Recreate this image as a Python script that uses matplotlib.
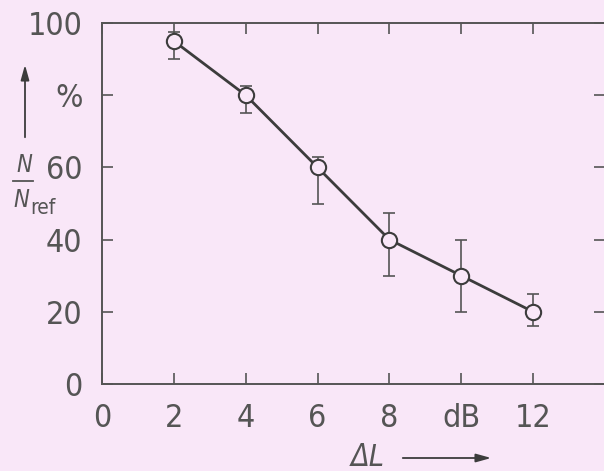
import matplotlib
matplotlib.use('Agg')
import matplotlib.pyplot as plt
from matplotlib.lines import Line2D

# data
delta_l = [2, 4, 6, 8, 10, 12]
ratio = [95, 80, 60, 40, 30, 20]
err_low = [5, 5, 10, 10, 10, 4]
err_high = [2.5, 2.5, 3, 7.5, 10, 5]

xticks = [0, 2, 4, 6, 8, 10, 12]
xticklabels = ['0', '2', '4', '6', '8', 'dB', '12']
yticks = [0, 20, 40, 60, 80, 100]
yticklabels = ['0', '20', '40', '60', '%', '100']

bg = '#f9e7f8'
ink = '#3c3c3c'
txt = '#555555'
plt.rcParams['font.family'] = ['DejaVu Sans']
plt.rcParams['font.stretch'] = 'condensed'

fig = plt.figure(figsize=(6.04, 4.71), dpi=100)
fig.patch.set_facecolor(bg)
W, H = 604.0, 471.0
ax = fig.add_axes([102 / W, 87 / H, 503 / W, 361 / H])
ax.set_facecolor(bg)

# error bars first, then the line with open circles on top
ax.errorbar(delta_l, ratio, yerr=[err_low, err_high], fmt='none',
            ecolor='#555555', elinewidth=1.2, capsize=4.5, capthick=1.2, zorder=2)
ax.plot(delta_l, ratio, color=ink, linewidth=2.0, marker='o', markersize=11,
        markerfacecolor=bg, markeredgecolor=ink, markeredgewidth=1.5, zorder=3)

ax.set_xlim(0, 14)
ax.set_ylim(0, 100)
ax.set_xticks(xticks)
ax.set_xticklabels(xticklabels)
ax.set_yticks(yticks)
ax.set_yticklabels(yticklabels)
ax.tick_params(direction='in', length=8, width=1.2, color='#555555',
               top=True, right=True, labelsize=23, labelcolor=txt)
ax.tick_params(axis='x', pad=14)
ax.tick_params(axis='y', pad=14)
for s in ax.spines.values():
    s.set_color('#555555')
    s.set_linewidth(1.4)

# y label: arrow plus N / N_ref
ax.annotate('', xy=(25, H - 62), xytext=(25, H - 140), xycoords='figure pixels',
            textcoords='figure pixels',
            arrowprops=dict(arrowstyle='-|>,head_length=0.9,head_width=0.25',
                            color=ink, linewidth=1.3))
fig.text(24 / W, 1 - 165 / H, 'N', fontsize=17, style='italic', color=txt,
         ha='center', va='center')
fig.add_artist(Line2D([13 / W, 33 / W], [1 - 181 / H, 1 - 181 / H],
                      color=txt, linewidth=1.3))
fig.text(21 / W, 1 - 200 / H, 'N', fontsize=17, style='italic', color=txt,
         ha='center', va='center')
fig.text(30 / W, 1 - 208 / H, 'ref', fontsize=15, color=txt,
         ha='left', va='center')

# x label: ΔL plus arrow
fig.text(368 / W, 1 - 457 / H, 'ΔL', fontsize=22, style='italic', color=txt,
         ha='center', va='center')
ax.annotate('', xy=(494, H - 458), xytext=(400, H - 458), xycoords='figure pixels',
            textcoords='figure pixels',
            arrowprops=dict(arrowstyle='-|>,head_length=0.9,head_width=0.25',
                            color=ink, linewidth=1.3))

fig.savefig('out.png', dpi=100, facecolor=bg)
